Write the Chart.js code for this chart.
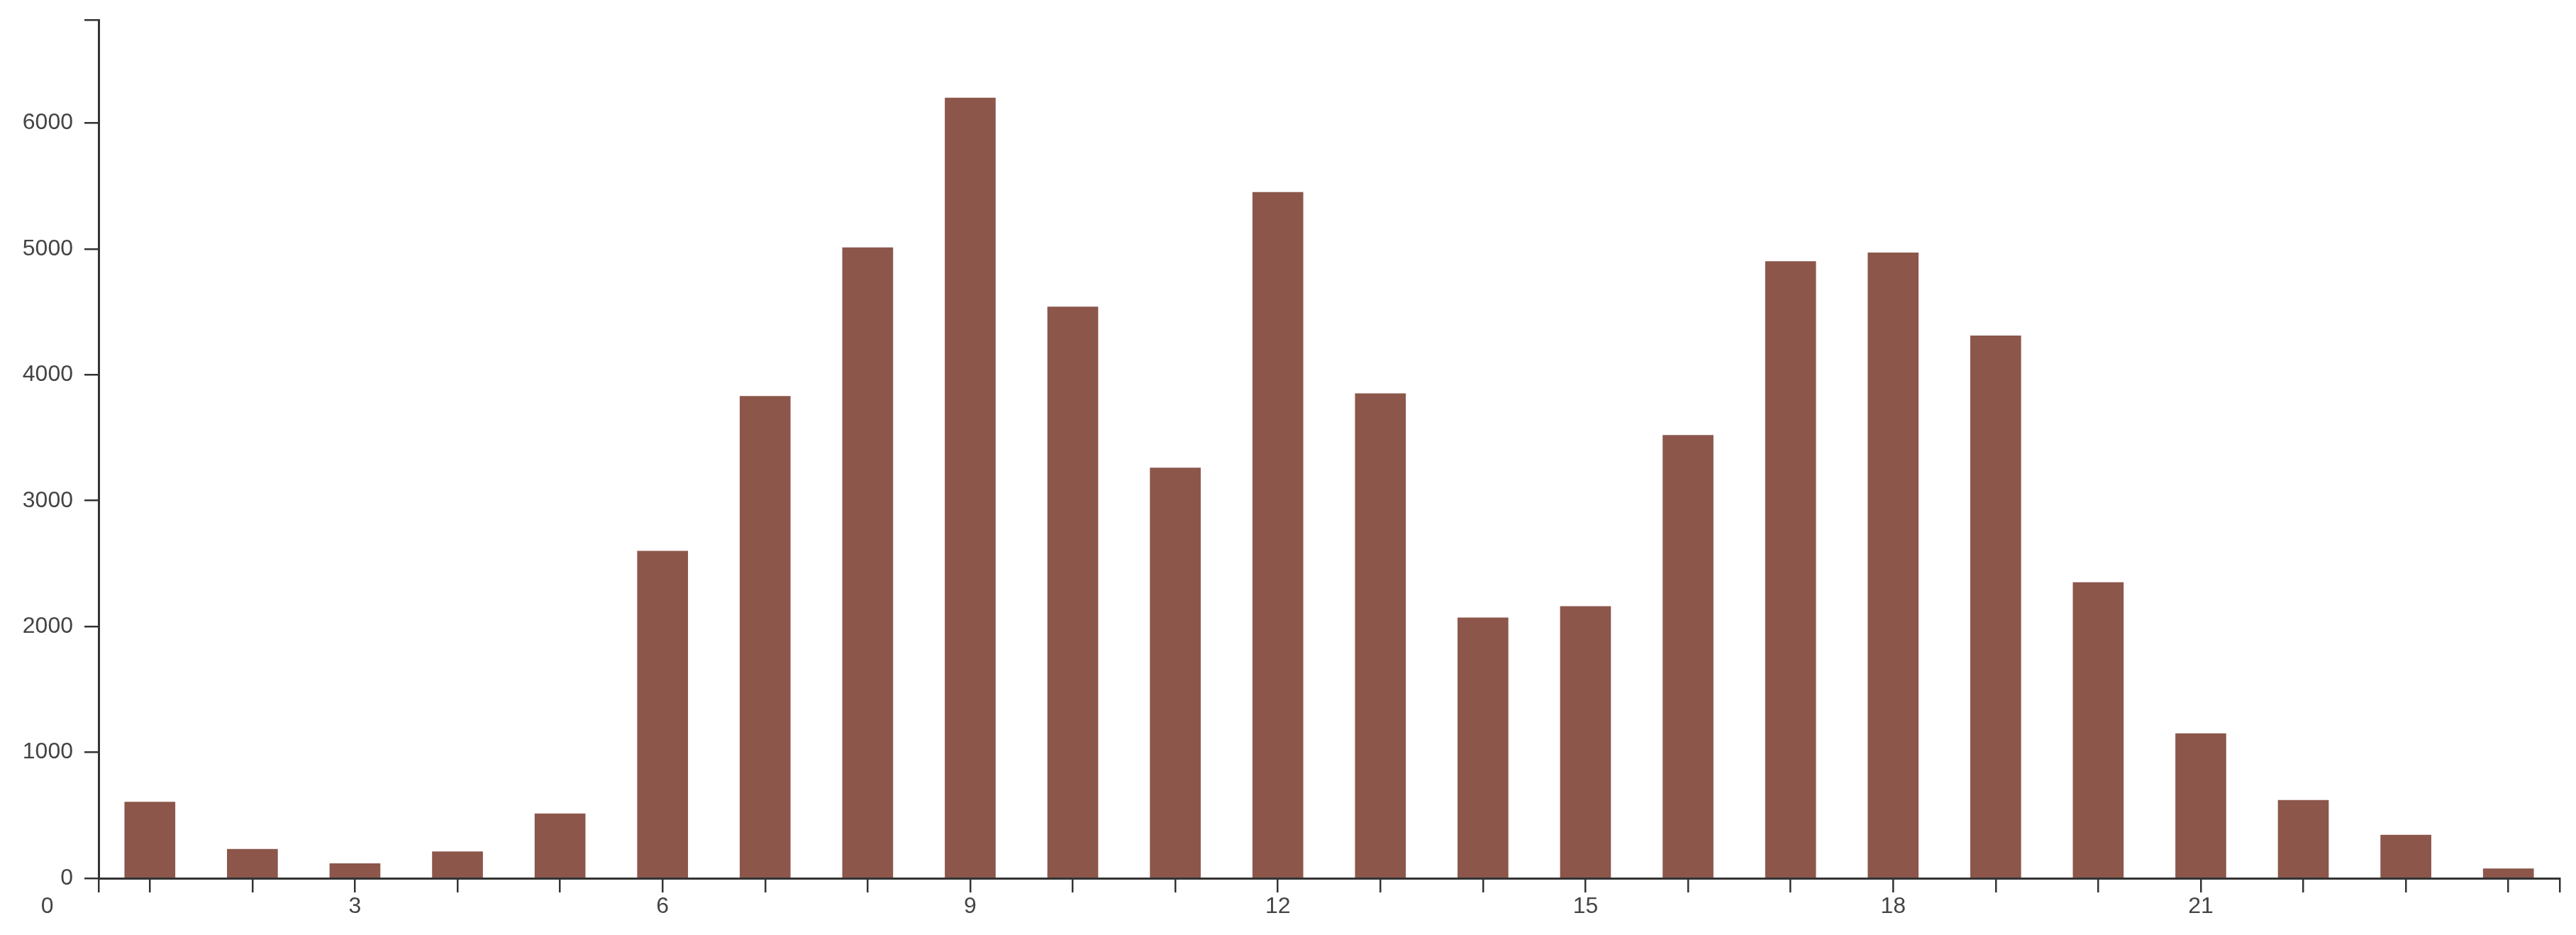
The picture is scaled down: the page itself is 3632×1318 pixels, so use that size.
<!DOCTYPE html>
<html>
<head>
<meta charset="utf-8">
<script src="https://cdn.jsdelivr.net/npm/chart.js@4.4.1/dist/chart.umd.min.js"></script>
<style>
  html, body { margin: 0; padding: 0; background: #fff; }
  #wrap { width: 3632px; height: 1318px; }
</style>
</head>
<body>
<div id="wrap"><canvas id="chart" width="3632" height="1318"></canvas></div>
<script>
// hour of day -> count
const hours = [1, 2, 3, 4, 5, 6, 7, 8, 9, 10, 11, 12, 13, 14, 15, 16, 17, 18, 19, 20, 21, 22, 23, 24];
const counts = [606, 230, 117, 211, 512, 2600, 3830, 5010, 6200, 4540, 3260, 5450,
                3850, 2070, 2160, 3520, 4900, 4970, 4310, 2350, 1150, 620, 343, 76];
const xTickLabels = [0, 3, 6, 9, 12, 15, 18, 21];
const yTickLabels = [0, 1000, 2000, 3000, 4000, 5000, 6000];
const xMin = 0.5, xMax = 24.5;
const yMax = 6820;

const axisColor = "#333";
const textColor = "#444";
const font = { family: "'Liberation Sans', Arial, sans-serif", size: 32 };

const ctx = document.getElementById("chart").getContext("2d");
new Chart(ctx, {
  type: "bar",
  data: {
    datasets: [{
      data: hours.map((h, i) => ({ x: h, y: counts[i] })),
      backgroundColor: "#8c564b",
      borderWidth: 0,
      barThickness: 71,
    }],
  },
  options: {
    responsive: false,
    animation: false,
    events: [],
    layout: { padding: { top: 28, right: 23, left: 0, bottom: 0 } },
    plugins: { legend: { display: false }, tooltip: { enabled: false } },
    scales: {
      x: {
        type: "linear",
        min: xMin,
        max: xMax,
        offset: false,
        afterBuildTicks: (scale) => {
          // outer ticks at both ends, one per hour, and the lone "0"
          scale.ticks = [0, xMin, ...hours, xMax].map(v => ({ value: v }));
        },
        afterFit: (scale) => { scale.height = 80; },
        ticks: {
          autoSkip: false,
          maxRotation: 0,
          minRotation: 0,
          padding: 1,
          color: textColor,
          font: font,
          callback: (v) => xTickLabels.includes(v) ? String(v) : "",
        },
        grid: {
          offset: false,
          drawOnChartArea: false,
          drawTicks: true,
          tickLength: 20,
          lineWidth: 2.5,
          tickColor: (c) => (c.tick && c.tick.value === 0) ? "rgba(0,0,0,0)" : axisColor,
        },
        border: { display: true, color: axisColor, width: 3 },
      },
      y: {
        min: 0,
        max: yMax,
        afterBuildTicks: (scale) => {
          scale.ticks = [...yTickLabels, yMax].map(v => ({ value: v }));
        },
        afterFit: (scale) => {
          scale.width = 139;
          scale.paddingTop = 0;
          scale.paddingBottom = 0;
        },
        ticks: {
          padding: 16,
          color: textColor,
          font: font,
          callback: (v) => yTickLabels.includes(v) ? String(v) : "",
        },
        grid: {
          drawOnChartArea: false,
          drawTicks: true,
          tickLength: 20,
          lineWidth: 2.5,
          tickColor: axisColor,
        },
        border: { display: true, color: axisColor, width: 3 },
      },
    },
  },
});
</script>
</body>
</html>
